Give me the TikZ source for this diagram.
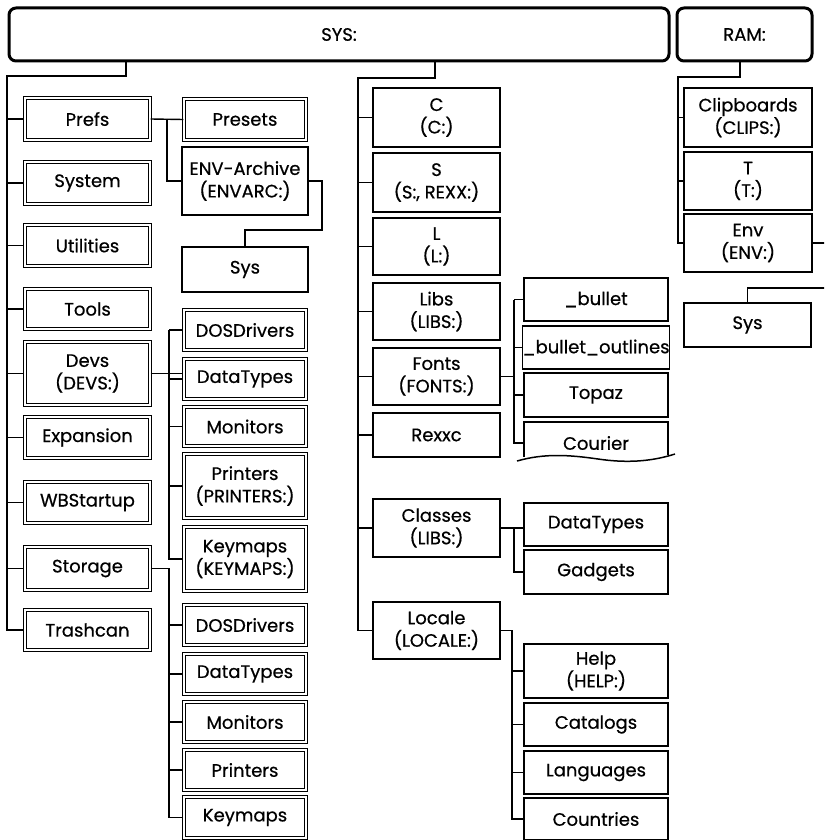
\documentclass[tikz,border=0pt]{standalone}
\usepackage{fontspec}
\setmainfont{Poppins}[FakeBold=0.6]
\newcommand\labfont{\fontsize{18}{22.5}\selectfont}
\newcommand\bxx[7]{%
 \pgfmathsetmacro\cx{(#3+#5)/2}\pgfmathsetmacro\cy{(#4+#6)/2}%
 \pgfmathsetmacro\ww{#5-#3}\pgfmathsetmacro\hh{#6-#4}%
 \node[#1, minimum width=\ww pt, minimum height=\hh pt] (#2) at (\cx,\cy) {#7};}
\newcommand\dbx[6]{%
 \pgfmathsetmacro\cx{(#2+#4)/2}\pgfmathsetmacro\cy{(#3+#5)/2}%
 \pgfmathsetmacro\ww{#4-#2-4}\pgfmathsetmacro\hh{#5-#3-4}%
 \node[dbox, minimum width=\ww pt, minimum height=\hh pt] (#1) at (\cx,\cy) {#6};}
\tikzset{
  box/.style={draw, line width=1.5pt, inner sep=0pt, align=center, font=\labfont},
  dbox/.style={draw, double, double distance=2.2pt, line width=1.2pt, inner sep=0pt, align=center, font=\labfont},
  plain/.style={inner sep=0pt, align=center, font=\labfont},
  root/.style={draw, line width=3pt, rounded corners=7pt, inner sep=0pt, font=\labfont},
  conn/.style={line width=1.4pt},
  outl/.style={line width=1.5pt}
}
\begin{document}
\begin{tikzpicture}[x=1pt,y=-1pt]
\useasboundingbox (0,0) rectangle (824,840);
\clip (0,0) rectangle (824,840);
% roots
\bxx{root}{sys}{9}{8}{669}{61}{SYS:}
\bxx{root}{ram}{677}{8}{812}{61}{RAM:}
% left column
\dbx{prefs}{23}{96}{152}{142}{Prefs}
\dbx{system}{23}{160}{152}{206}{System}
\dbx{utilities}{23}{223}{152}{268}{Utilities}
\dbx{tools}{23}{287}{152}{331}{Tools}
\dbx{devs}{23}{340}{152}{407}{Devs\\(DEVS:)}
\dbx{expansion}{23}{415}{152}{460}{Expansion}
\dbx{wbstartup}{23}{480}{152}{525}{WBStartup}
\dbx{storage}{23}{545}{152}{592}{Storage}
\dbx{trashcan}{23}{608}{152}{652}{Trashcan}
% second column
\dbx{presets}{182}{97}{308}{142}{Presets}
\bxx{box}{envarc}{182}{147}{308}{215}{ENV-Archive\\(ENVARC:)}
\bxx{box}{sysa}{182}{247}{308}{292}{Sys}
\dbx{dos1}{182}{308}{308}{352}{DOSDrivers}
\dbx{dt1}{182}{357}{308}{401}{DataTypes}
\dbx{mon1}{182}{405}{308}{448}{Monitors}
\dbx{pr1}{182}{452}{308}{520}{Printers\\(PRINTERS:)}
\dbx{km1}{182}{525}{308}{593}{Keymaps\\(KEYMAPS:)}
\dbx{dos2}{182}{603}{308}{647}{DOSDrivers}
\dbx{dt2}{182}{652}{308}{696}{DataTypes}
\dbx{mon2}{182}{700}{308}{744}{Monitors}
\dbx{pr2}{182}{748}{308}{792}{Printers}
\dbx{km2}{182}{795}{308}{840}{Keymaps}
% third column
\bxx{box}{nc}{373}{88}{500}{147}{C\\(C:)}
\bxx{box}{ns}{373}{153}{500}{212}{S\\(S:, REXX:)}
\bxx{box}{nl}{373}{218}{500}{275}{L\\(L:)}
\bxx{box}{libs}{373}{283}{500}{340}{Libs\\(LIBS:)}
\bxx{box}{fonts}{373}{348}{500}{405}{Fonts\\(FONTS:)}
\bxx{box}{rexxc}{373}{413}{500}{457}{Rexxc}
\bxx{box}{classes}{373}{499}{500}{557}{Classes\\(LIBS:)}
\bxx{box}{locale}{373}{602}{500}{659}{Locale\\(LOCALE:)}
% fourth column
\bxx{box}{bullet}{524}{278}{668}{321}{\_bullet}
\bxx{box}{outlines}{524}{326}{668}{369}{\_bullet\_outlines}
\bxx{box}{topaz}{524}{373}{668}{417}{Topaz}
\bxx{plain}{courier}{524}{422}{668}{464}{Courier}
\draw[outl] (courier.north west) ++(0,35) -- (courier.north west) -- (courier.north east) -- ++(0,33);
\draw[outl] (517,461) .. controls (545,453) and (570,455) .. (598,459) .. controls (625,463) and (650,462) .. (675,454);
\bxx{box}{dt3}{524}{503}{668}{546}{DataTypes}
\bxx{box}{gadgets}{524}{550}{668}{594}{Gadgets}
\bxx{box}{help}{524}{644}{668}{698}{Help\\(HELP:)}
\bxx{box}{catalogs}{524}{703}{668}{746}{Catalogs}
\bxx{box}{languages}{524}{751}{668}{794}{Languages}
\bxx{box}{countries}{524}{798}{668}{840}{Countries}
% RAM column
\bxx{box}{clips}{684}{88}{812}{147}{Clipboards\\(CLIPS:)}
\bxx{box}{nt}{684}{152}{812}{210}{T\\(T:)}
\bxx{box}{env}{684}{214}{812}{272}{Env\\(ENV:)}
\bxx{box}{sysb}{684}{303}{811}{347}{Sys}
% connector coordinates
\coordinate (s1) at (126,76);
\coordinate (t1) at (7,76);
\coordinate (s2) at (435,78);
\coordinate (t2) at (358,78);
\coordinate (s3) at (740,77);
\coordinate (t3) at (678,77);
\coordinate (b1) at (167,0);
\coordinate (b2) at (169,0);
\coordinate (b4) at (514,0);
\coordinate (b6) at (512,0);
\coordinate (e1) at (322,230);
\coordinate (r1) at (832,288);
% SYS left trunk
\draw[conn] (s1 |- sys.south) -- (s1) -- (t1) |- (trashcan.west);
\foreach \n in {prefs,system,utilities,tools,devs,expansion,wbstartup,storage}
  \draw[conn] (t1 |- \n.west) -- (\n.west);
% Prefs
\draw[conn] (prefs.east) -- (presets.west);
\draw[conn] (prefs.east -| b1) |- (envarc.west);
\draw[conn] (envarc.east) -| (e1) -| (sysa.north);
% Devs
\draw[conn] (devs.east) -- (devs.east -| dt1.west);
\draw[conn] (b2 |- dos1.west) |- (km1.west);
\foreach \n in {dos1,dt1,mon1,pr1}
  \draw[conn] (b2 |- \n.west) -- (\n.west);
% Storage
\draw[conn] (storage.east) -| (b2 |- km2.west) -- (km2.west);
\foreach \n in {dos2,dt2,mon2,pr2}
  \draw[conn] (b2 |- \n.west) -- (\n.west);
% SYS middle trunk
\draw[conn] (s2 |- sys.south) -- (s2) -- (t2) |- (locale.west);
\foreach \n in {nc,ns,nl,libs,fonts,rexxc,classes}
  \draw[conn] (t2 |- \n.west) -- (\n.west);
% Fonts
\draw[conn] (fonts.east) -- (fonts.east -| b4);
\draw[conn] (b4 |- bullet.west) |- (courier.west);
\foreach \n in {bullet,outlines,topaz}
  \draw[conn] (b4 |- \n.west) -- (\n.west);
% Classes
\draw[conn] (classes.east) -- (classes.east -| dt3.west);
\draw[conn] (classes.east -| b4) |- (gadgets.west);
% Locale
\draw[conn] (locale.east) -| (b6 |- countries.west) -- (countries.west);
\foreach \n in {help,catalogs,languages}
  \draw[conn] (b6 |- \n.west) -- (\n.west);
% RAM trunk
\draw[conn] (s3 |- ram.south) -- (s3) -- (t3) |- (env.west);
\foreach \n in {clips,nt}
  \draw[conn] (t3 |- \n.west) -- (\n.west);
\draw[conn] (env.east) -| (r1) -| (sysb.north);
\end{tikzpicture}
\end{document}
